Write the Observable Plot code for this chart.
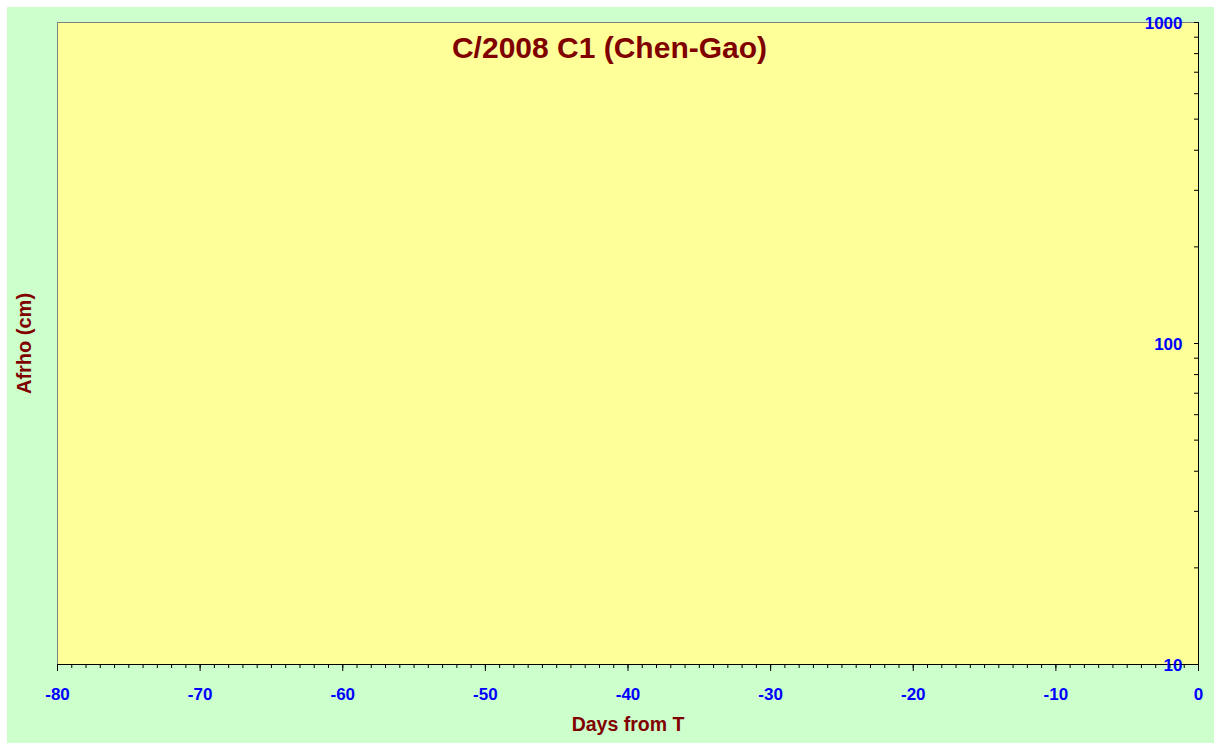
<!DOCTYPE html>
<html>
<head>
<meta charset="utf-8">
<script src="https://cdn.jsdelivr.net/npm/d3@7"></script>
<script src="https://cdn.jsdelivr.net/npm/@observablehq/plot@0.6"></script>
<style>
  body { margin: 0; background: #ffffff; }
  #wrap { position: relative; width: 1221px; height: 750px; background: #ffffff; overflow: hidden; }
  #bg { position: absolute; left: 7px; top: 7px; width: 1207px; height: 736px; background: #ccffcc; }
  #chart { position: absolute; left: 0; top: 0; }
  #title { position: absolute; left: 0; top: 33px; width: 1219px; text-align: center;
           font: bold 30px "Liberation Sans", Arial, sans-serif; line-height: 30px; color: #800000; }
</style>
</head>
<body>
<div id="wrap">
  <div id="bg"></div>
  <div id="chart"></div>
  <div id="title"></div>
</div>
<script>
// ---- data ----
const chartTitle = "C/2008 C1 (Chen-Gao)";
const xLabel = "Days from T";
const yLabel = "Afrho (cm)";
const xDomain = [-80, 0];
const yDomain = [10, 1000];
const xMajorTicks = [-80, -70, -60, -50, -40, -30, -20, -10, 0];
const xMinorTicks = d3.range(-80, 1, 1);
const yMajorTicks = [10, 100, 1000];
const yMinorTicks = [20, 30, 40, 50, 60, 70, 80, 90, 200, 300, 400, 500, 600, 700, 800, 900];

document.getElementById("title").textContent = chartTitle;

const font = "'Liberation Sans', Arial, sans-serif";
const blue = "#0000ff";
const darkRed = "#800000";

const plot = Plot.plot({
  width: 1221,
  height: 750,
  marginLeft: 57,
  marginRight: 23,
  marginTop: 22,
  marginBottom: 86,
  style: { background: "transparent", fontFamily: font, overflow: "visible" },
  x: { domain: xDomain },
  y: { type: "log", domain: yDomain },
  marks: [
    Plot.frame({ fill: "#ffff99", stroke: null }),
    // left & top borders (gray)
    Plot.ruleX([xDomain[0]], { stroke: "#808080" }),
    Plot.ruleY([yDomain[1]], { stroke: "#808080" }),
    // x minor ticks
    Plot.axisX({ anchor: "bottom", ticks: xMinorTicks, tickSize: 4, tickFormat: () => "", label: null, stroke: "#000" }),
    // x major ticks
    Plot.axisX({ anchor: "bottom", ticks: xMajorTicks, tickSize: 7, tickFormat: () => "", label: null, stroke: "#000" }),
    // y ticks (inward from right axis)
    Plot.axisY({ anchor: "right", ticks: yMinorTicks.concat(yMajorTicks), tickSize: 5, dx: -5, tickFormat: () => "", label: null, stroke: "#000" }),
    // right & bottom axis lines (black)
    Plot.ruleX([xDomain[1]], { stroke: "#000" }),
    Plot.ruleY([yDomain[0]], { stroke: "#000" }),
    // x tick labels
    Plot.text(xMajorTicks, { x: d => d, text: d => String(d), frameAnchor: "bottom", lineAnchor: "top", dy: 23,
      fill: blue, fontSize: 17, fontWeight: "bold" }),
    // y tick labels
    Plot.text(yMajorTicks, { y: d => d, text: d => String(d), frameAnchor: "right", textAnchor: "end", dx: -16, dy: 1,
      fill: blue, fontSize: 17, fontWeight: "bold" }),
    // axis titles
    Plot.text([xLabel], { text: d => d, frameAnchor: "bottom", lineAnchor: "top", dy: 53,
      fill: darkRed, fontSize: 19.5, fontWeight: "bold" }),
    Plot.text([yLabel], { text: d => d, frameAnchor: "left", textAnchor: "middle", rotate: -90, dx: -33,
      fill: darkRed, fontSize: 20, fontWeight: "bold" })
  ]
});
document.getElementById("chart").appendChild(plot);
</script>
</body>
</html>
